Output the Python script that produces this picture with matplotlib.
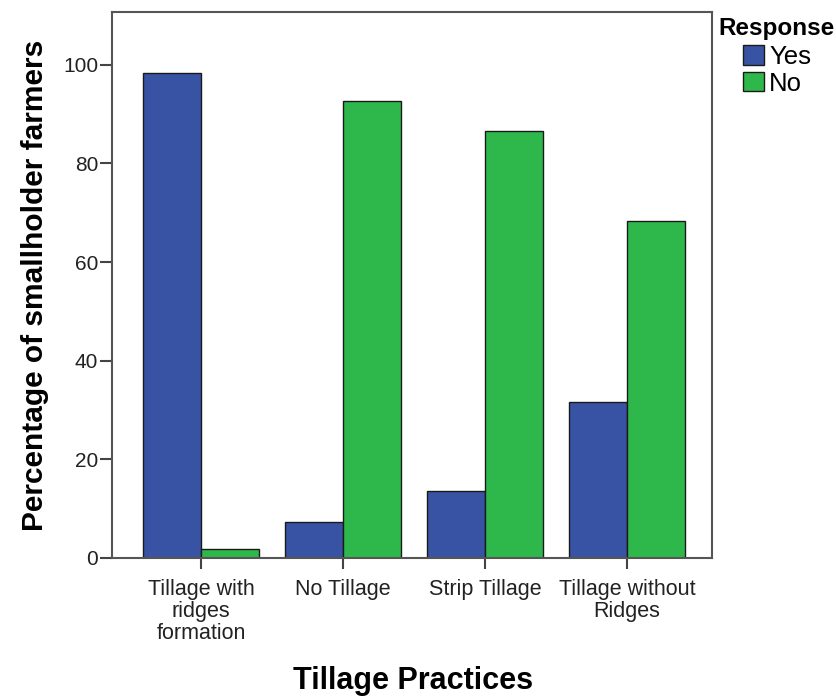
import matplotlib.pyplot as plt
import numpy as np
from matplotlib.patches import Patch

plt.rcParams["font.family"] = ["Liberation Sans", "DejaVu Sans"]

categories = ["Tillage with\nridges\nformation", "No Tillage", "Strip Tillage", "Tillage without\nRidges"]
yes_values = [98.3, 7.3, 13.6, 31.6]
no_values = [1.8, 92.7, 86.6, 68.4]
yticks = [0, 20, 40, 60, 80, 100]

blue = "#3953a4"
green = "#2eb84b"

fig = plt.figure(figsize=(8.37, 6.98), dpi=100)
ax = fig.add_axes([0.1338, 0.2006, 0.7169, 0.7822])

x = np.arange(len(categories))
w = 0.41
ax.bar(x - w / 2, yes_values, w, color=blue, edgecolor="#1a1a1a", linewidth=1.0)
ax.bar(x + w / 2, no_values, w, color=green, edgecolor="#1a1a1a", linewidth=1.0)

ax.set_xlim(-0.627, 3.6)
ax.set_ylim(0, 110.7)
ax.set_yticks(yticks)
ax.set_yticklabels([str(t) for t in yticks], fontsize=15, color="#222222")
ax.set_xticks(x)
ax.set_xticklabels(categories, fontsize=15.5, color="#222222", linespacing=1.08)
ax.tick_params(axis="y", length=9, width=1.5, color="#444444", pad=1)
ax.tick_params(axis="x", length=8, width=1.5, color="#444444", pad=7)
for s in ax.spines.values():
    s.set_color("#555555")
    s.set_linewidth(1.5)

ax.set_ylabel("Percentage of smallholder farmers", fontsize=21.5, fontweight="bold", labelpad=10)
fig.text(0.4934, 1 - 681 / 698, "Tillage Practices", fontsize=22, fontweight="bold",
         ha="center", va="center")

# legend
fig.text(718 / 837, 1 - 28 / 698, "Response", fontsize=17.5, fontweight="bold",
         ha="left", va="center")
handles = [Patch(facecolor=blue, edgecolor="#1a1a1a", label="Yes"),
           Patch(facecolor=green, edgecolor="#1a1a1a", label="No")]
fig.legend(handles=handles, loc="upper left", bbox_to_anchor=(743 / 837, 1 - 45 / 698),
           frameon=False, fontsize=18.5, handlelength=0.82, handleheight=0.8,
           handletextpad=0.2, labelspacing=0.1, borderpad=0, borderaxespad=0)

plt.savefig("out.png", dpi=100)
